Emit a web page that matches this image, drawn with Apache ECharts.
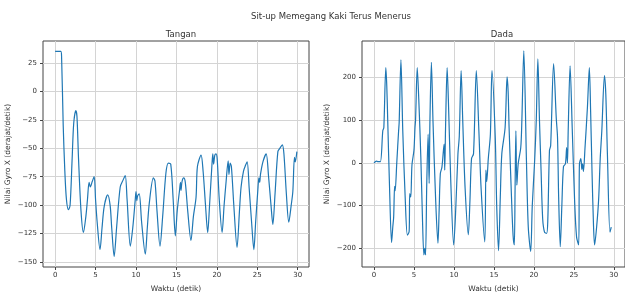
<!DOCTYPE html>
<html>
<head>
<meta charset="utf-8">
<script src="https://cdn.jsdelivr.net/npm/echarts@6/dist/echarts.min.js"></script>
<style>
  html, body { margin: 0; padding: 0; background: #fff; }
  #chart { width: 625px; height: 298px; }
</style>
</head>
<body>
<div id="chart"></div>
<script>
// Tangan (hand sensor)
var tanganT = [0, 0.3, 0.7, 0.8, 1.0, 1.2, 1.4, 1.65, 1.85, 2.1, 2.3, 2.56, 2.7, 2.9, 3.2, 3.5, 3.8, 4.0, 4.2, 4.35, 4.6, 4.83,
  5.0, 5.2, 5.55, 5.8, 6.07, 6.5, 6.8, 7.0, 7.3, 7.6, 8.05, 8.4, 8.67, 8.9, 9.3, 9.6, 9.9, 10.0, 10.1, 10.2, 10.4,
  10.7, 11.15, 11.4, 11.65, 12.15, 12.35, 12.6, 12.97, 13.3, 13.7, 14.0, 14.3, 14.6, 14.87, 15.1, 15.37, 15.5, 15.57,
  15.7, 15.9, 16.1, 16.4, 16.8, 17.1, 17.43, 17.6, 18.05, 18.3, 18.6, 18.87, 19.1, 19.4, 19.5, 19.6, 19.75, 19.9,
  20.05, 20.3, 20.65, 20.9, 21.15, 21.4, 21.5, 21.65, 21.8, 22.1, 22.5, 22.8, 23.0, 23.3, 23.55, 23.75, 24.0, 24.3,
  24.58, 24.8, 25.07, 25.2, 25.3, 25.4, 25.7, 26.1, 26.4, 26.7, 26.93, 27.2, 27.55, 27.8, 28.1, 28.3, 28.6, 28.9,
  29.2, 29.4, 29.6, 29.7, 29.9];
var tanganV = [35, 35, 35, 30, -30, -70, -95, -104, -100, -60, -28, -17, -22, -60, -105, -124, -110, -95, -80, -84, -79, -75,
  -95, -115, -139, -120, -101, -91, -100, -120, -145, -120, -84, -78, -74, -95, -136, -120, -96, -88, -96, -92, -90,
  -115, -143, -120, -98, -76, -79, -105, -136, -110, -72, -63, -64, -95, -127, -105, -88, -80, -87,
  -79, -76, -80, -105, -131, -110, -93, -66, -56, -70, -100, -124, -100, -64, -55, -64, -56, -55,
  -60, -95, -124, -100, -79, -61, -73, -63, -66, -100, -137, -105, -84, -70, -65, -62, -85, -115,
  -139, -115, -87, -76, -80, -73, -62, -55, -75, -100, -117, -90, -53, -50, -47, -55, -90, -115,
  -100, -88, -58, -62, -53];

// Dada (chest sensor)
var dadaT = [0, 0.3, 0.5, 0.8, 1.1, 1.23, 1.48, 1.6, 1.72, 1.95, 2.2, 2.35, 2.46, 2.58, 2.65, 2.85, 3.08, 3.15, 3.37, 3.6,
  3.9, 4.18, 4.4, 4.47, 4.6, 4.75, 5.0, 5.13, 5.2, 5.41, 5.6, 5.86, 6.05, 6.24, 6.35, 6.45, 6.6, 6.77, 6.9, 7.0,
  7.18, 7.38, 7.7, 8.0, 8.15, 8.3, 8.5, 8.77, 8.85, 8.95, 9.15, 9.3, 9.6, 9.97, 10.2, 10.5, 10.67, 10.9, 11.1, 11.4,
  11.8, 12.0, 12.2, 12.45, 12.8, 13.12, 13.4, 13.86, 14.0, 14.1, 14.3, 14.56, 14.76, 15.17, 15.35, 15.58, 15.8,
  15.99, 16.4, 16.65, 16.78, 16.9, 17.2, 17.4, 17.55, 17.65, 17.75, 17.87, 18.04, 18.36, 18.5, 18.74, 19.07, 19.3,
  19.6, 19.8, 20.1, 20.3, 20.5, 20.7, 20.9, 21.1, 21.33, 21.6, 21.74, 21.95, 22.1, 22.47, 22.8, 22.96, 23.1, 23.3,
  23.5, 23.7, 23.95, 24.1, 24.2, 24.3, 24.53, 24.8, 25.1, 25.34, 25.6, 25.7, 25.88, 26.0, 26.1, 26.2, 26.4, 26.7,
  26.94, 27.1, 27.27, 27.45, 27.6, 27.85, 28.1, 28.3, 28.5, 28.83, 29.0, 29.2, 29.52, 29.68];
var dadaV = [0, 4, 3, 3, 75, 82, 223, 180, 98, -60, -186, -150, -127, -55, -65, 0, 75, 95, 241, 75,
  -80, -169, -160, -72, -80, -5, 30, 83, 100, 223, 150, 13, -120, -215, -200, -215, -50, 67, -48, 100,
  235, 98, -80, -188, -110, -25, -10, 44, -17, 80, 223, 150, -40, -192, -120, 20, 63, 216, 100, -60,
  -168, -90, 10, 21, 216, 75, -60, -185, -17, -44, 10, 67, 216, 59, -100, -205, -80,
  21, 82, 201, 167, 82, -80, -170, -192, -60, 75, -52, -2, 36, 100, 262, 6, -150,
  -207, -100, 6, 100, 243, 100, -17, -130, -162, -165, -136, 29, 40, 232, 105, 59, -80, -196,
  -100, -9, -2, 36, 0, 80, 227, 80, -90, -173, -192, -2, 10, -15, -2, -20, 36, 130,
  223, 120, -17, -140, -192, -150, -86, 10, 75, 204, 160, 20, -162, -150];

var xTicks = [0, 5, 10, 15, 20, 25, 30];
var tanganTicks = [-150, -125, -100, -75, -50, -25, 0, 25];
var dadaTicks = [-200, -100, 0, 100, 200];

function pairs(ts, vs) {
  return ts.map(function (t, i) { return [t, vs[i]]; });
}
function fmt(v) { return String(v).replace('-', '\u2212'); }

var font = 'DejaVu Sans';
var txt = '#333';

function xAx(idx) {
  return {
    type: 'value', gridIndex: idx, min: -1.5, max: 31.4,
    name: 'Waktu (detik)', nameLocation: 'middle', nameGap: 18,
    nameTextStyle: { fontFamily: font, fontSize: 7.5, color: txt },
    axisLine: { show: false, onZero: false },
    axisTick: { show: true, inside: false, length: 3, customValues: xTicks, lineStyle: { color: '#444' } },
    axisLabel: { customValues: xTicks, fontFamily: font, fontSize: 7, color: txt, margin: 5, formatter: fmt },
    splitLine: { show: true, lineStyle: { color: '#d4d4d4', width: 1 } }
  };
}
function yAx(idx, min, max, ticks) {
  return {
    type: 'value', gridIndex: idx, min: min, max: max,
    name: 'Nilai Gyro X (derajat/detik)', nameLocation: 'middle', nameGap: 31, nameRotate: 90,
    nameTextStyle: { fontFamily: font, fontSize: 7.5, color: txt },
    axisLine: { show: false, onZero: false },
    axisTick: { show: true, inside: false, length: 3, customValues: ticks, lineStyle: { color: '#444' } },
    axisLabel: { customValues: ticks, fontFamily: font, fontSize: 7, color: txt, margin: 6, formatter: fmt },
    splitLine: { show: true, lineStyle: { color: '#d4d4d4', width: 1 } }
  };
}

var option = {
  backgroundColor: '#fff',
  animation: false,
  title: [
    { text: 'Sit-up Memegang Kaki Terus Menerus', left: 326, top: 7, textAlign: 'center',
      textStyle: { fontFamily: font, fontSize: 8.5, fontWeight: 'normal', color: txt } },
    { text: 'Tangan', left: 176, top: 25, textAlign: 'center',
      textStyle: { fontFamily: font, fontSize: 8.5, fontWeight: 'normal', color: txt } },
    { text: 'Dada', left: 497, top: 25, textAlign: 'center',
      textStyle: { fontFamily: font, fontSize: 8.5, fontWeight: 'normal', color: txt } }
  ],
  grid: [
    { left: 43, top: 41, width: 266, height: 231, show: true, borderColor: '#444', borderWidth: 1, backgroundColor: 'transparent' },
    { left: 362, top: 41, width: 267, height: 231, show: true, borderColor: '#444', borderWidth: 1, backgroundColor: 'transparent' }
  ],
  xAxis: [xAx(0), xAx(1)],
  yAxis: [yAx(0, -154.3, 44.2, tanganTicks), yAx(1, -243.5, 285, dadaTicks)],
  series: [
    { type: 'line', xAxisIndex: 0, yAxisIndex: 0, data: pairs(tanganT, tanganV), showSymbol: false,
      smooth: 0.3, lineStyle: { color: '#1f77b4', width: 1.2 } },
    { type: 'line', xAxisIndex: 1, yAxisIndex: 1, data: pairs(dadaT, dadaV), showSymbol: false,
      smooth: 0.3, lineStyle: { color: '#1f77b4', width: 1.2 } }
  ]
};

var myChart = echarts.init(document.getElementById('chart'));
myChart.setOption(option);
</script>
</body>
</html>
